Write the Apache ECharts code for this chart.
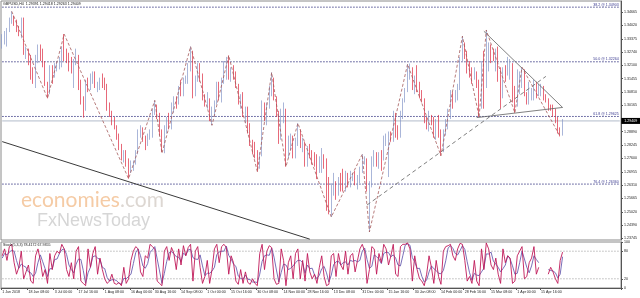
<!DOCTYPE html>
<html><head><meta charset="utf-8">
<script src="https://cdn.jsdelivr.net/npm/echarts@6/dist/echarts.min.js"></script>
<style>html,body{margin:0;padding:0;background:#fff}#c{width:640px;height:298px}</style>
</head><body><div id="c"></div>
<script>
// ---- Daily OHLC, GBPUSD, 1 Jun 2018 - 26 Apr 2019 ----
const openP = [
 1.3300,1.3340,1.3350,1.3380,1.3420,1.3440,1.3410,1.3380,1.3370,1.3400,1.3270,1.3270,1.3250,1.3170,1.3140,1.3250,1.3280,1.3260,1.3210,1.3120,1.3080,
 1.3200,1.3160,1.3200,1.3210,1.3230,1.3290,1.3260,1.3240,1.3210,1.3200,1.3230,1.3250,1.3100,1.3040,1.3000,1.3130,1.3110,1.3160,1.3170,1.3110,1.3110,1.3140,
 1.3120,1.3100,1.3000,1.2970,1.2930,1.2910,1.2860,1.2810,1.2760,1.2790,1.2730,1.2710,1.2720,1.2740,1.2790,1.2890,1.2900,1.2850,1.2840,1.2870,1.2880,1.2990,1.3010,
 1.2960,1.2880,1.2800,1.2900,1.2930,1.2920,1.3010,1.3040,1.3030,1.3090,1.3070,1.3140,1.3140,1.3190,1.3270,1.3070,1.3140,1.3180,1.3160,1.3050,
 1.3030,1.3040,1.2970,1.2990,1.3030,1.3120,1.3080,1.3140,1.3200,1.3230,1.3150,1.3180,1.3170,1.3110,1.3040,1.3060,1.2970,1.2970,1.2900,1.2830,1.2810,1.2780,1.2720,
 1.2780,1.3010,1.2970,1.3020,1.3100,1.3140,1.3050,1.2970,1.2860,1.2970,1.2970,1.2770,1.2830,1.2840,1.2780,1.2840,1.2880,1.2820,1.2830,1.2740,1.2810,1.2780,
 1.2750,1.2740,1.2720,1.2730,1.2760,1.2720,1.2560,1.2500,1.2630,1.2640,1.2580,1.2650,1.2630,1.2620,1.2680,1.2630,1.2670,1.2680,1.2650,1.2660,1.2710,
 1.2750,1.2750,1.2620,1.2630,1.2740,1.2780,1.2730,1.2780,1.2760,1.2850,1.2860,1.2870,1.2860,1.2970,1.2880,1.2870,1.2970,1.3040,1.3090,1.3190,1.3190,1.3100,1.3130,
 1.3110,1.3070,1.3040,1.2940,1.2930,1.2950,1.2940,1.2880,1.2930,1.2880,1.2810,1.2890,1.2930,1.2980,1.3060,1.3050,1.3050,1.3100,1.3240,1.3280,
 1.3260,1.3190,1.3170,1.3140,1.3170,1.3110,1.3010,1.3150,1.3100,1.3250,1.3300,1.3260,1.3250,1.3260,1.3180,1.3080,1.3200,1.3190,1.3200,1.3210,1.3050,
 1.3030,1.3090,1.3120,1.3180,1.3060,1.3040,1.3050,1.3070,1.3120,1.3070,1.3070,1.3100,1.3050,1.3040,1.3010,1.3000,1.2990,1.2940,1.2890,1.2880
];
const highP = [
 1.3360,1.3375,1.3390,1.3440,1.3470,1.3450,1.3430,1.3400,1.3440,1.3440,1.3300,1.3290,1.3260,1.3200,1.3260,1.3310,1.3310,1.3290,1.3230,1.3130,1.3210,
 1.3210,1.3220,1.3230,1.3250,1.3300,1.3360,1.3290,1.3270,1.3250,1.3240,1.3290,1.3260,1.3140,1.3060,1.3140,1.3150,1.3170,1.3180,1.3180,1.3130,1.3150,1.3170,
 1.3150,1.3120,1.3030,1.2990,1.2960,1.2920,1.2880,1.2830,1.2800,1.2800,1.2760,1.2750,1.2750,1.2800,1.2900,1.2920,1.2910,1.2870,1.2880,1.2900,1.3000,1.3040,1.3020,
 1.2980,1.2900,1.2920,1.2960,1.2980,1.3030,1.3060,1.3060,1.3110,1.3140,1.3150,1.3160,1.3220,1.3300,1.3280,1.3160,1.3220,1.3220,1.3170,1.3070,
 1.3080,1.3050,1.3010,1.3040,1.3130,1.3130,1.3150,1.3230,1.3250,1.3257,1.3200,1.3210,1.3180,1.3120,1.3070,1.3080,1.3010,1.3010,1.2930,1.2850,1.2840,1.2800,1.2790,
 1.3040,1.3030,1.3030,1.3110,1.3175,1.3150,1.3060,1.2990,1.3000,1.3030,1.3000,1.2870,1.2880,1.2870,1.2860,1.2930,1.2900,1.2860,1.2840,1.2820,1.2830,1.2800,
 1.2790,1.2780,1.2770,1.2810,1.2780,1.2760,1.2670,1.2640,1.2690,1.2650,1.2670,1.2690,1.2710,1.2700,1.2690,1.2700,1.2690,1.2700,1.2680,1.2720,1.2780,
 1.2770,1.2760,1.2650,1.2770,1.2800,1.2790,1.2790,1.2800,1.2870,1.2880,1.2890,1.2890,1.2990,1.2980,1.2920,1.2990,1.3050,1.3100,1.3215,1.3218,1.3200,1.3160,1.3210,
 1.3130,1.3090,1.3050,1.2960,1.2990,1.2970,1.2960,1.2950,1.2970,1.2900,1.2900,1.2950,1.3000,1.3090,1.3080,1.3090,1.3120,1.3250,1.3350,1.3320,
 1.3280,1.3230,1.3200,1.3200,1.3180,1.3140,1.3230,1.3280,1.3380,1.3320,1.3310,1.3290,1.3290,1.3300,1.3200,1.3200,1.3210,1.3250,1.3240,1.3220,1.3110,
 1.3190,1.3180,1.3200,1.3190,1.3080,1.3130,1.3100,1.3140,1.3130,1.3120,1.3120,1.3110,1.3070,1.3050,1.3020,1.3020,1.3000,1.2960,1.2910,1.2950
];
const lowP = [
 1.3290,1.3310,1.3300,1.3370,1.3410,1.3400,1.3370,1.3350,1.3340,1.3260,1.3240,1.3210,1.3140,1.3120,1.3100,1.3220,1.3230,1.3200,1.3110,1.3050,1.3070,
 1.3120,1.3150,1.3180,1.3190,1.3200,1.3230,1.3220,1.3180,1.3170,1.3100,1.3210,1.3090,1.3020,1.2957,1.2990,1.3080,1.3090,1.3120,1.3100,1.3080,1.3090,1.3100,
 1.3090,1.2990,1.2960,1.2920,1.2900,1.2850,1.2800,1.2750,1.2740,1.2720,1.2662,1.2690,1.2700,1.2730,1.2780,1.2860,1.2840,1.2800,1.2820,1.2850,1.2860,1.2970,1.2950,
 1.2870,1.2790,1.2785,1.2880,1.2900,1.2900,1.2980,1.3000,1.3020,1.3060,1.3060,1.3120,1.3120,1.3180,1.3050,1.3060,1.3130,1.3130,1.3040,1.3010,
 1.3000,1.2940,1.2920,1.2960,1.3020,1.3040,1.3030,1.3120,1.3140,1.3140,1.3130,1.3140,1.3100,1.3020,1.3000,1.2960,1.2930,1.2880,1.2820,1.2780,1.2760,1.2696,1.2710,
 1.2770,1.2940,1.2920,1.3000,1.3060,1.3040,1.2960,1.2830,1.2850,1.2930,1.2720,1.2760,1.2800,1.2760,1.2760,1.2820,1.2810,1.2790,1.2720,1.2720,1.2760,1.2730,
 1.2720,1.2660,1.2690,1.2690,1.2710,1.2507,1.2490,1.2477,1.2580,1.2560,1.2580,1.2600,1.2600,1.2600,1.2620,1.2620,1.2650,1.2630,1.2610,1.2640,1.2690,
 1.2730,1.2600,1.2405,1.2620,1.2720,1.2720,1.2710,1.2700,1.2750,1.2820,1.2670,1.2840,1.2840,1.2860,1.2850,1.2860,1.2950,1.3030,1.3080,1.3140,1.3090,1.3070,1.3080,
 1.3050,1.3030,1.2930,1.2900,1.2890,1.2920,1.2860,1.2850,1.2860,1.2773,1.2790,1.2870,1.2900,1.2950,1.3000,1.3030,1.3040,1.3090,1.3230,1.3240,
 1.3170,1.3150,1.3120,1.3140,1.3100,1.2960,1.3000,1.3000,1.3100,1.3180,1.3220,1.3230,1.3180,1.3130,1.3000,1.3050,1.3130,1.3160,1.3140,1.3030,1.2980,
 1.3010,1.3070,1.3100,1.3060,1.3020,1.3020,1.3040,1.3040,1.3050,1.3060,1.3060,1.3040,1.3030,1.2990,1.2990,1.2960,1.2930,1.2880,1.2866,1.2870
];
const closeP = [
 1.3340,1.3350,1.3380,1.3420,1.3440,1.3410,1.3380,1.3370,1.3400,1.3270,1.3270,1.3250,1.3170,1.3140,1.3250,1.3280,1.3260,1.3210,1.3120,1.3080,1.3200,
 1.3160,1.3200,1.3210,1.3230,1.3290,1.3260,1.3240,1.3210,1.3200,1.3230,1.3250,1.3100,1.3040,1.3000,1.3130,1.3110,1.3160,1.3170,1.3110,1.3110,1.3140,1.3120,
 1.3100,1.3000,1.2970,1.2930,1.2910,1.2860,1.2810,1.2760,1.2790,1.2730,1.2710,1.2720,1.2740,1.2790,1.2890,1.2900,1.2850,1.2840,1.2870,1.2880,1.2990,1.3010,1.2960,
 1.2880,1.2800,1.2900,1.2930,1.2920,1.3010,1.3040,1.3030,1.3090,1.3070,1.3140,1.3140,1.3190,1.3270,1.3070,1.3140,1.3180,1.3160,1.3050,1.3030,
 1.3040,1.2970,1.2990,1.3030,1.3120,1.3080,1.3140,1.3200,1.3230,1.3150,1.3180,1.3170,1.3110,1.3040,1.3060,1.2970,1.2970,1.2900,1.2830,1.2810,1.2780,1.2720,1.2780,
 1.3010,1.2970,1.3020,1.3100,1.3140,1.3050,1.2970,1.2860,1.2970,1.2970,1.2770,1.2830,1.2840,1.2780,1.2840,1.2880,1.2820,1.2830,1.2740,1.2810,1.2780,1.2750,
 1.2740,1.2720,1.2730,1.2760,1.2720,1.2560,1.2500,1.2630,1.2640,1.2580,1.2650,1.2630,1.2620,1.2680,1.2630,1.2670,1.2680,1.2650,1.2660,1.2710,1.2750,
 1.2750,1.2620,1.2630,1.2740,1.2780,1.2730,1.2780,1.2760,1.2850,1.2860,1.2870,1.2860,1.2970,1.2880,1.2870,1.2970,1.3040,1.3090,1.3190,1.3190,1.3100,1.3130,1.3110,
 1.3070,1.3040,1.2940,1.2930,1.2950,1.2940,1.2880,1.2930,1.2880,1.2810,1.2890,1.2930,1.2980,1.3060,1.3050,1.3050,1.3100,1.3240,1.3280,1.3260,
 1.3190,1.3170,1.3140,1.3170,1.3110,1.3010,1.3150,1.3100,1.3250,1.3300,1.3260,1.3250,1.3260,1.3180,1.3080,1.3200,1.3190,1.3200,1.3210,1.3050,1.3030,
 1.3090,1.3120,1.3180,1.3060,1.3040,1.3050,1.3070,1.3120,1.3070,1.3070,1.3100,1.3050,1.3040,1.3010,1.3000,1.2990,1.2940,1.2890,1.2880,1.2941
];
// ---- Stochastic (5,3,3): %K and %D, one reading per day ----
const stochK = [
 70,85,60,90,95,55,30,45,80,20,35,50,15,10,70,85,60,25,40,10,75,
 40,70,80,75,95,85,40,25,55,20,80,90,15,10,5,85,45,75,90,30,65,40,
 20,10,15,30,10,8,12,5,45,10,20,60,80,90,85,35,25,70,65,95,90,85,15,
 10,5,80,90,60,88,75,40,85,50,92,70,88,95,15,80,90,45,10,25,
 60,10,40,85,95,55,90,95,88,30,70,55,15,8,40,10,35,12,8,20,10,5,75,
 95,40,80,92,88,20,8,10,85,60,5,55,70,20,75,85,20,60,15,75,35,20,
 30,10,45,70,25,5,8,70,75,25,75,50,40,80,30,70,75,35,60,85,95,
 80,10,40,90,85,30,75,55,95,85,50,70,95,30,25,90,95,95,98,85,15,70,40,
 20,15,5,30,70,45,10,60,25,8,80,90,92,95,70,60,85,97,95,60,
 15,25,10,60,15,5,85,40,98,85,50,40,65,30,10,85,55,70,65,10,15,
 70,80,90,20,25,55,65,90,30,45,null,null,null,30,45,35,20,10,60,78
];
const stochD = [
 65,75,72,78,82,80,60,43,52,48,45,35,33,25,32,55,72,57,42,25,42,
 42,62,63,75,83,85,73,50,40,33,52,63,62,38,10,33,45,68,70,65,62,45,
 42,23,15,18,18,16,10,8,21,20,25,30,53,77,85,70,48,43,53,77,83,90,63,
 37,10,32,58,77,79,74,68,67,58,76,71,83,84,66,63,62,72,48,27,
 32,32,37,45,73,78,80,80,91,71,63,52,47,26,21,19,28,19,18,13,13,12,30,
 58,70,72,71,87,67,39,13,34,52,50,40,43,48,55,60,60,55,32,50,42,43,
 28,20,28,42,47,33,13,28,51,57,58,50,55,57,50,60,58,60,57,60,80,
 87,62,43,47,72,68,63,53,75,78,77,68,72,65,50,48,70,93,96,93,66,57,42,
 43,25,13,17,35,48,42,38,32,31,38,59,87,92,86,75,72,81,92,84,
 57,33,17,32,28,27,35,43,74,74,78,58,52,45,35,42,50,70,63,48,30,
 32,55,80,63,45,33,48,70,62,55,null,null,null,40,38,37,33,22,30,68
];
// ---- axis tick labels ----
const timeLabels = [
 ['2018-06-01','1 Jun 2018'],['2018-06-18','18 Jun 08:00'],['2018-07-03','3 Jul 00:00'],['2018-07-17','17 Jul 16:00'],
 ['2018-08-01','1 Aug 08:00'],['2018-08-16','16 Aug 00:00'],['2018-08-30','30 Aug 16:00'],['2018-09-14','14 Sep 08:00'],
 ['2018-10-01','1 Oct 00:00'],['2018-10-15','15 Oct 16:00'],['2018-10-30','30 Oct 08:00'],['2018-11-14','14 Nov 00:00'],
 ['2018-11-28','28 Nov 16:00'],['2018-12-13','13 Dec 08:00'],['2018-12-31','31 Dec 00:00'],['2019-01-15','15 Jan 16:00'],
 ['2019-01-30','30 Jan 08:00'],['2019-02-14','14 Feb 00:00'],['2019-02-28','28 Feb 16:00'],['2019-03-15','15 Mar 08:00'],
 ['2019-04-01','1 Apr 00:00'],['2019-04-15','15 Apr 16:00']
];
const priceTicks = [1.34665,1.34020,1.33375,1.32740,1.32100,1.31455,1.30810,1.30165,1.28890,1.28245,1.27600,1.26955,1.26310,1.25665,1.25020,1.24390,1.23745];
const stochTicks = [0,20,80,100];
const stochLevels = [20,80];
// Fibonacci levels
const fibLevels = [1.34903,1.32264,1.29625,1.26360];
const fibNames = ['38.2 @ 1.34903','50.0 @ 1.32264','61.8 @ 1.29625','76.4 @ 1.26360'];
const lastPrice = 1.29409;
// drawn lines: [dayIndex, price]
const zigzag = [[4,1.3470],[19,1.3050],[26,1.3360],[53,1.2662],[64,1.3040],[67,1.2785],[79,1.3300],[88,1.2920],[95,1.3257],[107,1.2696],[113,1.3175],[119,1.2720],[124,1.2930],[138,1.2477],[151,1.2780],[154,1.2405],[170,1.3215],[184,1.2773],[193,1.3350],[200,1.2960],[203,1.3380],[215,1.2980],[218,1.3200],[234,1.2866]];
const longTrend = [[0,1.2841],[129,1.2370]];
const risingTrend = [[153,1.2535],[228,1.3156]];
const triUpper = [[202,1.3374],[235,1.3006]];
const triLower = [[199,1.2957],[235,1.3006]];

// trading-day categories (weekdays), incl. empty right margin
const days = [];
(function(){ const d = new Date(Date.UTC(2018,5,1));
  while (days.length < 260) { const w = d.getUTCDay();
    if (w !== 0 && w !== 6) days.push(d.toISOString().slice(0,10));
    d.setUTCDate(d.getUTCDate()+1); } })();
const LAST = days.length - 1;
const labelMap = {}; timeLabels.forEach(t => labelMap[t[0]] = t[1]);
const candles = openP.map((o,i) => [o, closeP[i], lowP[i], highP[i]]);

const FS = 3.6, FF = 'Liberation Sans, Arial, sans-serif';
const chart = echarts.init(document.getElementById('c'), null, {renderer:'canvas'});
const lineSeries = (data, color, width, type, extra) => Object.assign({
  type:'line', data, symbol:'none', silent:true, animation:false, z:4,
  lineStyle:{color, width, type}, xAxisIndex:0, yAxisIndex:0
}, extra || {});
const levelSeries = fibLevels.map((v,i) => lineSeries([[0,v],[LAST,v]], '#4b4b8f', 1, [1.5,1.5], {
  z:2, endLabel:{show:true, formatter:fibNames[i], fontSize:FS, color:'#3a3a90', fontFamily:FF,
    align:'right', verticalAlign:'bottom', distance:0, offset:[-1,-0.5]}
}));
const bidSeries = lineSeries([[0,lastPrice],[LAST,lastPrice]], '#b3bccb', 1, 'solid', {
  z:2, endLabel:{show:true, formatter:lastPrice.toFixed(5), fontSize:FS, color:'#fff', backgroundColor:'#000',
    padding:[1,3,1,3], distance:1.5, fontFamily:FF, verticalAlign:'middle'}
});
const stochLevelSeries = stochLevels.map(v => ({type:'line', xAxisIndex:1, yAxisIndex:1, data:[[0,v],[LAST,v]],
  symbol:'none', silent:true, z:1, lineStyle:{color:'#b8b8b8', type:[1.5,1.5], width:1}}));

chart.setOption({
  animation:false, backgroundColor:'#fff',
  grid:[
    {left:1, right:19, top:1, height:239, show:true, borderColor:'#8a8a8a', borderWidth:1, containLabel:false, outerBoundsMode:'none'},
    {left:1, right:19, top:242, height:46, show:true, borderColor:'#8a8a8a', borderWidth:1, containLabel:false, outerBoundsMode:'none'}
  ],
  xAxis:[
    {type:'category', gridIndex:0, data:days, boundaryGap:true, axisLine:{show:false}, axisTick:{show:false}, axisLabel:{show:false}, splitLine:{show:false}},
    {type:'category', gridIndex:1, data:days, boundaryGap:true, axisLine:{show:true, lineStyle:{color:'#555'}},
     axisTick:{show:true, length:2, interval:(i,v)=>labelMap.hasOwnProperty(v), lineStyle:{color:'#555'}},
     axisLabel:{show:true, interval:(i,v)=>labelMap.hasOwnProperty(v), formatter:v=>labelMap[v]||'', align:'left', margin:2, fontSize:FS, color:'#222', fontFamily:FF, hideOverlap:false},
     splitLine:{show:false}}
  ],
  yAxis:[
    {type:'value', gridIndex:0, position:'right', min:1.2366, max:1.3520,
     axisLine:{show:true, lineStyle:{color:'#555'}}, splitLine:{show:false},
     axisTick:{show:true, length:2, customValues:priceTicks, lineStyle:{color:'#555'}},
     axisLabel:{show:true, customValues:priceTicks, formatter:v=>v.toFixed(5), margin:3, fontSize:FS, color:'#222', fontFamily:FF, hideOverlap:false}},
    {type:'value', gridIndex:1, position:'right', min:0, max:100,
     axisLine:{show:true, lineStyle:{color:'#555'}}, splitLine:{show:false},
     axisTick:{show:true, length:2, customValues:stochTicks, lineStyle:{color:'#555'}},
     axisLabel:{show:true, customValues:stochTicks, margin:3, fontSize:FS, color:'#222', fontFamily:FF}}
  ],
  graphic:[
    {type:'text', left:3, top:2, z:10, style:{text:'GBPUSD,H4  1.29391 1.29418 1.29263 1.29409', fontSize:FS, fill:'#111', fontFamily:FF}},
    {type:'text', left:3, top:243, z:10, style:{text:'Stoch(5,3,3) 78.4172 67.9355', fontSize:FS, fill:'#111', fontFamily:FF}},
    {type:'text', left:21, top:190, z:0, style:{rich:{a:{fontSize:21, fill:'#f5cba5', fontFamily:'Lato, Liberation Sans, sans-serif'}, b:{fontSize:21, fill:'#ddd7d2', fontFamily:'Lato, Liberation Sans, sans-serif'}}, text:'{a|economies}{b|.com}'}},
    {type:'text', left:37, top:212, z:0, style:{text:'FxNewsToday', fontSize:18, fill:'#d6d6d6', fontFamily:'Liberation Sans, Arial, sans-serif'}}
  ],
  series: levelSeries.concat([bidSeries,
    lineSeries(longTrend, '#3a3a3a', 1, 'solid'),
    lineSeries(risingTrend, '#707070', 0.9, [4,3]),
    lineSeries(triUpper, '#606060', 0.8, 'solid'),
    lineSeries(triLower, '#606060', 0.8, 'solid'),
    {type:'candlestick', xAxisIndex:0, yAxisIndex:0, data:candles, barWidth:1.3, silent:true, z:3,
     itemStyle:{color:'#8596c8', color0:'#dc2a40', borderColor:'#8596c8', borderColor0:'#dc2a40', borderWidth:0.7}},
    lineSeries(zigzag, '#a45a5a', 0.8, [3,2])
  ]).concat(stochLevelSeries).concat([
    {type:'line', xAxisIndex:1, yAxisIndex:1, data:stochD, symbol:'none', silent:true, connectNulls:false,
     lineStyle:{color:'#6a5fb0', width:0.9}},
    {type:'line', xAxisIndex:1, yAxisIndex:1, data:stochK, symbol:'none', silent:true, connectNulls:false,
     lineStyle:{color:'#c01858', width:0.9}}
  ])
});
</script></body></html>
